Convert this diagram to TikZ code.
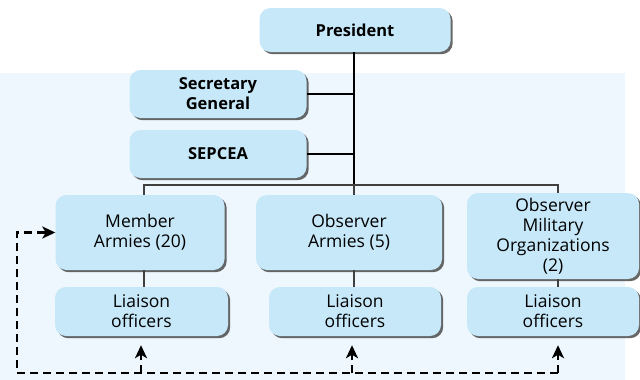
\documentclass[tikz,border=0pt]{standalone}
\usepackage{fontspec}
\setmainfont{Open Sans}
\usetikzlibrary{shadows,arrows.meta}
\definecolor{boxfill}{RGB}{198,232,248}
\definecolor{panel}{RGB}{237,247,253}
\tikzset{
  orgbox/.style={draw=none, fill=boxfill, rounded corners=11pt, align=center,
    inner sep=0pt, font=\fontsize{17.5}{20}\selectfont,
    drop shadow={shadow xshift=2.2pt, shadow yshift=-2.2pt, fill=black!70, opacity=0.85}},
  boldbox/.style={orgbox, font=\fontsize{16.5}{20}\selectfont\bfseries},
  solidline/.style={line width=2pt, black},
  busline/.style={line width=1.4pt, black!75},
  dashline/.style={line width=2.8pt, dash pattern=on 8pt off 5pt, black},
  tiponly/.style={line width=2.8pt, black, -{Stealth[length=13pt,width=12pt,inset=3.5pt]}}
}
\begin{document}
\begin{tikzpicture}[x=1pt,y=-1pt]
\useasboundingbox (0,0) rectangle (640,380);
\fill[panel] (0,73) rectangle (625,380);

\node[boldbox, minimum width=191pt, minimum height=44pt] (pres) at (355,30) {President};
\node[boldbox, minimum width=177pt, minimum height=48pt] (sec) at (218,94) {Secretary\\General};
\node[boldbox, minimum width=177pt, minimum height=48pt] (sep) at (218,154) {SEPCEA};

\node[orgbox, minimum width=169pt, minimum height=75pt] (mem) at (140,232.5) {Member\\Armies (20)};
\node[orgbox, minimum width=186pt, minimum height=75pt] (obs) at (349,232.5) {Observer\\Armies (5)};
\node[orgbox, minimum width=172pt, minimum height=86pt] (omo) at (553,236) {Observer\\Military\\Organizations\\(2)};

\node[orgbox, minimum width=173pt, minimum height=49pt] (l1) at (141.5,311.5) {Liaison\\officers};
\node[orgbox, minimum width=172pt, minimum height=49pt] (l2) at (355,311.5) {Liaison\\officers};
\node[orgbox, minimum width=172pt, minimum height=49pt] (l3) at (553,311.5) {Liaison\\officers};

\coordinate (d1) at (144,185);
\coordinate (d2) at (354,185);
\coordinate (d3) at (558,185);

\draw[solidline] (pres.south -| d2) -- (d2);
\draw[solidline] (sec.east) -- (sec.east -| d2);
\draw[solidline] (sep.east) -- (sep.east -| d2);

\draw[busline] (d1 |- mem.north) -- (d1) -- (d3) -- (d3 |- omo.north);
\draw[busline] (d2) -- (d2 |- obs.north);
\draw[busline] (mem.south -| d1) -- (l1.north -| d1);
\draw[busline] (obs.south -| d2) -- (l2.north -| d2);
\draw[busline] (omo.south -| d3) -- (l3.north -| d3);

\coordinate (a0) at (17,373);
\coordinate (a1) at (141,373);
\coordinate (a2) at (352,373);
\coordinate (a3) at (558,373);
\coordinate (e1) at ([yshift=-9pt]l1.south -| a1);
\coordinate (e2) at ([yshift=-9pt]l2.south -| a2);
\coordinate (e3) at ([yshift=-9pt]l3.south -| a3);

\draw[dashline] (a3) -- (a0) |- ([xshift=-8pt]mem.west);
\draw[dashline] (a1) -- ([yshift=-8pt]e1);
\draw[dashline] (a2) -- ([yshift=-8pt]e2);
\draw[dashline] (a3) -- ([yshift=-8pt]e3);

\draw[tiponly] ([xshift=-12pt]mem.west) -- (mem.west);
\draw[tiponly] ([yshift=-12pt]e1) -- (e1);
\draw[tiponly] ([yshift=-12pt]e2) -- (e2);
\draw[tiponly] ([yshift=-12pt]e3) -- (e3);
\end{tikzpicture}
\end{document}
